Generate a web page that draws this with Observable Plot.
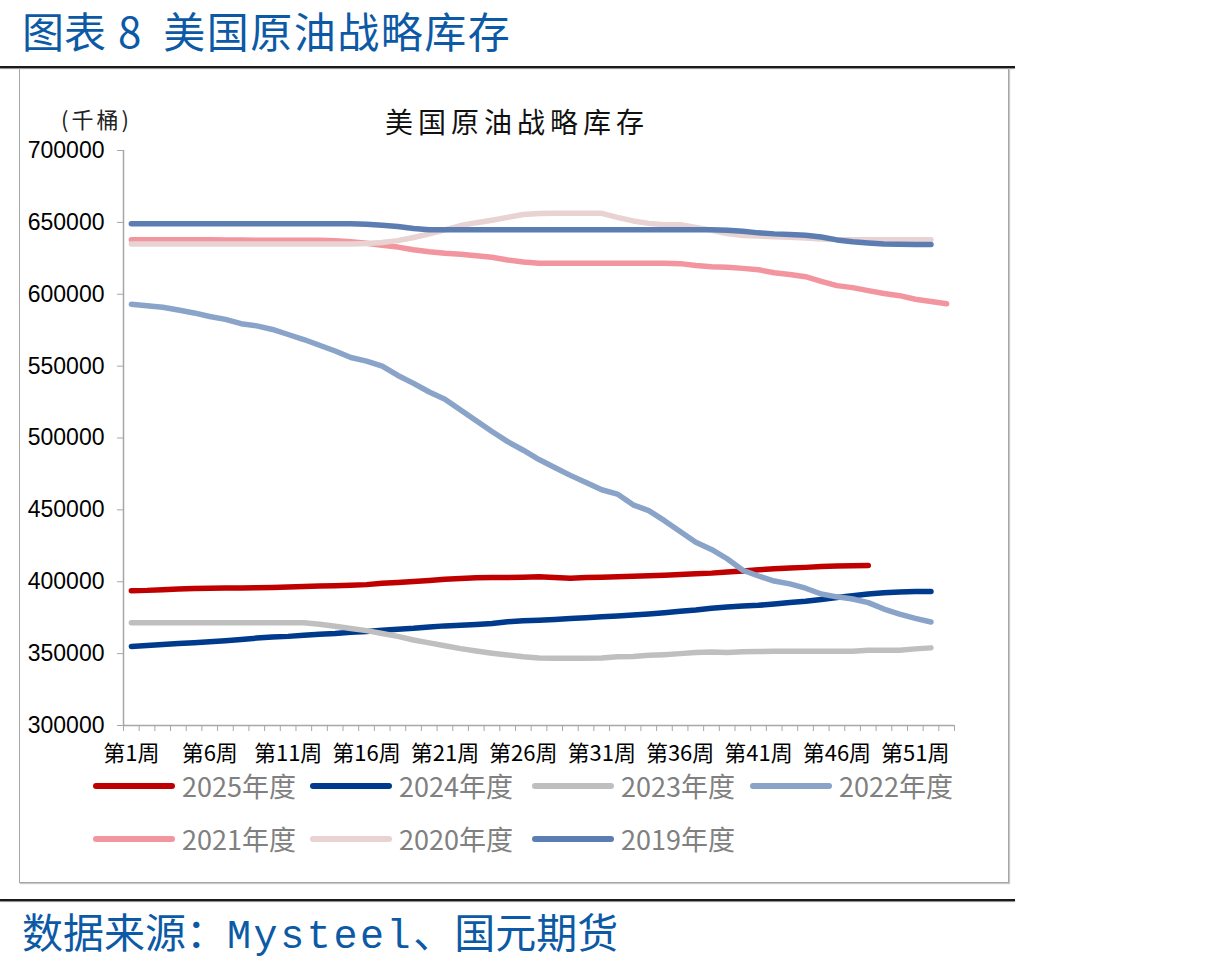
<!DOCTYPE html>
<html>
<head>
<meta charset="utf-8">
<script src="https://cdn.jsdelivr.net/npm/d3@7"></script>
<script src="https://cdn.jsdelivr.net/npm/@observablehq/plot@0.6"></script>
<style>
  html, body { margin: 0; padding: 0; background: #fff; }
  #page { position: relative; width: 1228px; height: 965px; overflow: hidden; font-family: "Noto Sans CJK SC", "Noto Sans", sans-serif; }
  .abs { position: absolute; white-space: nowrap; }
  #title { left: 22px; top: 4px; font-size: 42px; line-height: 52px; color: #0c5aa6; }
  #title .sp1 { display: inline-block; width: 12px; }
  #title .sp2 { display: inline-block; width: 22px; }
  #title .t { letter-spacing: 1.5px; }
  #footer { left: 22px; top: 904px; font-size: 41px; line-height: 52px; color: #0c5aa6; }
  #footer .mono { font-family: "Liberation Mono", "DejaVu Sans Mono", monospace; font-size: 40px; letter-spacing: 2.6px; }
  .hr { position: absolute; left: 0; width: 1015px; height: 2px; background: #1a1a1a; box-shadow: 0 1px 1px #888; }
  #box { position: absolute; left: 19px; top: 68px; width: 988px; height: 814px; border: 1px solid #a6a6a6; border-top: none; box-shadow: 1px 1px 1px #c8c8c8; }
  #unit { left: 61px; top: 103px; font-size: 22px; line-height: 30px; color: #222; letter-spacing: 3px; }
  #ctitle { left: 385px; top: 104px; font-size: 28px; line-height: 34px; color: #111; letter-spacing: 5px; }
  #chart { position: absolute; left: 0; top: 130px; }
  .leg { position: absolute; height: 26px; display: flex; align-items: center; }
  .leg .sw { width: 82px; height: 6px; border-radius: 3px; margin-right: 7px; }
  .leg .lb { font-size: 27px; color: #808080; line-height: 26px; }
</style>
</head>
<body>
<div id="page">
  <div id="title" class="abs">图表<span class="sp1"></span>8<span class="sp2"></span><span class="t">美国原油战略库存</span></div>
  <div class="hr" style="top:66px"></div>
  <div id="box"></div>
  <div id="unit" class="abs">(千桶)</div>
  <div id="ctitle" class="abs">美国原油战略库存</div>
  <div id="chart"></div>
  <div id="legend"></div>
  <div class="hr" style="top:899px"></div>
  <div id="footer" class="abs">数据来源：<span class="mono">Mysteel</span>、国元期货</div>
</div>
<script>
// ---- data (thousand barrels), index i -> week i+1 ----
const seriesNames = ["2025年度", "2024年度", "2023年度", "2022年度", "2021年度", "2020年度", "2019年度"];
const seriesColors = ["#c00000", "#003a8c", "#bfbfbf", "#8aa3c8", "#f2959f", "#e8d2d2", "#5b7db1"];

const s2025 = [393800, 394000, 394500, 395000, 395300, 395500, 395600, 395700, 395800, 396000,
  396400, 396700, 397000, 397300, 397600, 398000, 399000, 399500, 400200, 400900,
  401800, 402300, 402800, 402900, 403000, 403200, 403400, 403000, 402500, 403000,
  403200, 403400, 403800, 404200, 404600, 405000, 405500, 406000, 406800, 407500,
  408300, 409000, 409500, 410000, 410600, 411000, 411200, 411300];

const s2024 = [355000, 355700, 356300, 357000, 357600, 358300, 359000, 359800, 360800, 361500,
  362000, 362800, 363500, 364000, 364800, 365400, 366200, 367000, 367600, 368500,
  369300, 369700, 370300, 371000, 372200, 372800, 373300, 373800, 374400, 375000,
  375600, 376200, 376800, 377500, 378400, 379400, 380300, 381500, 382500, 383100,
  383600, 384500, 385600, 386500, 387700, 389000, 390200, 391500, 392300, 392900,
  393200, 393300];

const s2023 = [371500, 371500, 371500, 371500, 371500, 371500, 371500, 371500, 371500, 371500,
  371500, 371500, 370500, 369000, 367500, 366000, 364000, 362000, 359500, 357500,
  355500, 353500, 351800, 350300, 349000, 347800, 347000, 346800, 346800, 346800,
  346900, 347800, 348000, 348800, 349300, 350000, 350700, 351200, 350800, 351300,
  351500, 351600, 351700, 351700, 351700, 351700, 351700, 352300, 352400, 352400,
  353300, 354000];

const s2022 = [593000, 592000, 591000, 589000, 587000, 584500, 582500, 579500, 578000, 575500,
  572000, 568500, 564500, 560500, 556000, 553500, 550000, 543500, 538000, 532000,
  527000, 519500, 512000, 504500, 497500, 491500, 485000, 479500, 474000, 469000,
  464000, 461000, 453500, 449500, 442500, 435000, 427500, 422500, 416000, 408000,
  404000, 400500, 398500, 395500, 391500, 389500, 388000, 385500, 381000, 377500,
  374500, 372000];

const s2021 = [638000, 638000, 638000, 638000, 638000, 638000, 637800, 637700, 637500, 637500,
  637500, 637500, 637500, 637300, 636500, 635500, 634000, 632800, 631000, 629500,
  628500, 627800, 626800, 625700, 623800, 622500, 621600, 621600, 621600, 621600,
  621600, 621600, 621600, 621600, 621600, 621300, 620000, 619200, 618700, 618000,
  617000, 615000, 613800, 612200, 609000, 606000, 604600, 602500, 600500, 599000,
  596500, 595000, 593400];

const s2020 = [635000, 635000, 635000, 635000, 635000, 635000, 635000, 635000, 635000, 635000,
  635000, 635000, 635000, 635000, 635000, 635300, 636000, 637300, 639500, 642000,
  644800, 647800, 649800, 651500, 653500, 655500, 656200, 656300, 656300, 656300,
  656300, 653500, 651000, 649300, 648300, 648300, 646500, 644500, 642300, 640800,
  640500, 640000, 639600, 639200, 638500, 638000, 637900, 637900, 637900, 637900,
  637900, 637900];

const s2019 = [649000, 649000, 649000, 649000, 649000, 649000, 649000, 649000, 649000, 649000,
  649000, 649000, 649000, 649000, 649000, 648700, 648000, 647200, 645800, 644800,
  644800, 644800, 644800, 644800, 644800, 644800, 644800, 644800, 644800, 644800,
  644800, 644800, 644800, 644800, 644800, 644800, 644800, 644800, 644600, 643800,
  642700, 642000, 641600, 641000, 639800, 637800, 636500, 635700, 635000, 634700,
  634600, 634600];

const seriesValues = [s2025, s2024, s2023, s2022, s2021, s2020, s2019];

const weekCount = 53;
const xLabelWeeks = [1, 6, 11, 16, 21, 26, 31, 36, 41, 46, 51];
const yTicks = [300000, 350000, 400000, 450000, 500000, 550000, 600000, 650000, 700000];

// ---- build tidy rows ----
const rows = [];
seriesNames.forEach((name, si) => {
  seriesValues[si].forEach((v, i) => rows.push({series: name, week: i + 1, value: v}));
});

const boundaries = d3.range(0, weekCount + 1).map(i => i + 0.5);
const axisColor = "#a6a6a6";

const lineMarks = seriesNames.map((name, si) =>
  Plot.line(rows.filter(r => r.series === name), {
    x: "week", y: "value", stroke: seriesColors[si],
    strokeWidth: 5.5, strokeLinecap: "round", strokeLinejoin: "round"
  })
);

const chart = Plot.plot({
  width: 1000,
  height: 635,
  marginLeft: 123,
  marginRight: 46,
  marginTop: 20,
  marginBottom: 40,
  style: {background: "transparent", overflow: "visible", color: "#000"},
  x: {domain: [0.5, weekCount + 0.5], axis: null},
  y: {domain: [300000, 700000], axis: null},
  marks: [
    Plot.ruleX([0.5], {stroke: axisColor, strokeWidth: 1.5}),
    Plot.ruleY([300000], {stroke: axisColor, strokeWidth: 1.5}),
    Plot.axisY({ticks: yTicks, tickSize: 6, tickPadding: 13, stroke: axisColor, fill: "#000", label: null,
      tickFormat: d => String(d), fontSize: 23, fontFamily: "Liberation Sans, Arial, sans-serif"}),
    Plot.axisX({ticks: boundaries, tickSize: 6, stroke: axisColor, tickFormat: () => "", label: null}),
    Plot.axisX({ticks: xLabelWeeks, tickSize: 0, tickPadding: 20, fill: "#000", label: null,
      tickFormat: d => `第${d}周`, fontSize: 22, fontFamily: "Noto Sans CJK SC, sans-serif"}),
    ...lineMarks
  ]
});
document.getElementById("chart").appendChild(chart);

// ---- legend ----
const legendPos = [[93, 773], [310, 773], [532, 773], [750, 773], [93, 826], [310, 826], [532, 826]];
const legend = document.getElementById("legend");
seriesNames.forEach((name, si) => {
  const item = document.createElement("div");
  item.className = "leg";
  item.style.left = legendPos[si][0] + "px";
  item.style.top = legendPos[si][1] + "px";
  item.innerHTML = `<div class="sw" style="background:${seriesColors[si]}"></div><div class="lb">${name}</div>`;
  legend.appendChild(item);
});
</script>
</body>
</html>
